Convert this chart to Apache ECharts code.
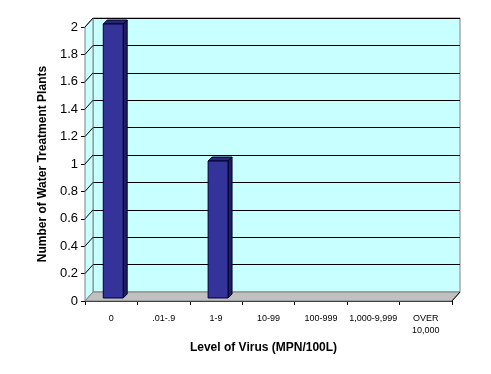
<!DOCTYPE html>
<html>
<head>
<meta charset="utf-8">
<script src="https://cdn.jsdelivr.net/npm/echarts@6/dist/echarts.min.js"></script>
<style>html,body{margin:0;padding:0;background:#fff;}#c{width:491px;height:374px;}</style>
</head>
<body>
<div id="c"></div>
<script>
const categories = ['0', '.01-.9', '1-9', '10-99', '100-999', '1,000-9,999', 'OVER\n10,000'];
const plantCounts = [2, 0, 1, 0, 0, 0, 0];
const yTicks = [0, 0.2, 0.4, 0.6, 0.8, 1, 1.2, 1.4, 1.6, 1.8, 2];
const yTitle = 'Number of Water Treatment Plants';
const xTitle = 'Level of Virus (MPN/100L)';

const DX = 8, DY = -9;          // depth of the 3D box
const BAR_OFF_X = 2, BAR_OFF_Y = -3, BAR_D = 4;  // bar placement in depth
const FONT = 'Liberation Sans, Arial, sans-serif';

const chart = echarts.init(document.getElementById('c'), null, {renderer: 'canvas'});

const option = {
  backgroundColor: '#ffffff',
  animation: false,
  grid: [
    {left: 93, right: 31, top: 18, bottom: 82, show: true, backgroundColor: '#C8FFFF', borderColor: '#808080', borderWidth: 1},
    {left: 85, right: 39, top: 27, bottom: 73, show: false}
  ],
  xAxis: [
    {gridIndex: 0, type: 'category', data: categories, axisLine: {show: false}, axisTick: {show: false}, axisLabel: {show: false}, splitLine: {show: false}},
    {gridIndex: 1, type: 'category', data: categories,
      axisLine: {show: true, lineStyle: {color: '#000', width: 1}},
      axisTick: {show: true, alignWithLabel: false, length: 4, lineStyle: {color: '#000'}},
      axisLabel: {color: '#000', fontSize: 9, fontFamily: FONT, margin: 12, interval: 0, lineHeight: 12},
      name: xTitle, nameLocation: 'middle', nameGap: 37,
      nameTextStyle: {fontSize: 12, fontWeight: 'bold', fontFamily: FONT, color: '#000', padding: [0, 10, 0, 0]}}
  ],
  yAxis: [
    {gridIndex: 0, type: 'value', min: 0, max: 2, interval: 0.2, axisLine: {show: false}, axisTick: {show: false}, axisLabel: {show: false},
      splitLine: {show: true, lineStyle: {color: '#000', width: 1}}},
    {gridIndex: 1, type: 'value', min: 0, max: 2, interval: 0.2,
      axisLine: {show: true, lineStyle: {color: '#000', width: 1}},
      axisTick: {show: true, length: 4, lineStyle: {color: '#000'}},
      axisLabel: {color: '#000', fontSize: 13, fontFamily: FONT, margin: 7},
      splitLine: {show: false},
      name: yTitle, nameLocation: 'middle', nameGap: 33, nameRotate: 90,
      nameTextStyle: {fontSize: 12, fontWeight: 'bold', fontFamily: FONT, color: '#000'}}
  ],
  series: [
    {
      // left side wall and floor
      type: 'custom', xAxisIndex: 1, yAxisIndex: 1, silent: true, z: 1,
      data: [[0]],
      renderItem: function (params, api) {
        const bw = api.size([1, 0])[0];
        const x0 = api.coord([0, 0])[0] - bw / 2;
        const x1 = api.coord([categories.length - 1, 0])[0] + bw / 2;
        const yb = api.coord([0, 0])[1];
        const yt = api.coord([0, 2])[1];
        return {type: 'group', children: [
          {type: 'polygon', shape: {points: [[x0, yb], [x0 + DX, yb + DY], [x0 + DX, yt + DY], [x0, yt]]},
            style: {fill: '#C8FFFF', stroke: '#808080', lineWidth: 1}},
          {type: 'polygon', shape: {points: [[x0, yb], [x0 + DX, yb + DY], [x1 + DX, yb + DY], [x1, yb]]},
            style: {fill: '#C0C0C0', stroke: '#808080', lineWidth: 1}},
          {type: 'line', shape: {x1: x1, y1: yb, x2: x1 + DX, y2: yb + DY}, style: {stroke: '#000', lineWidth: 1}}
        ]};
      }
    },
    {
      // side wall gridlines
      type: 'custom', xAxisIndex: 1, yAxisIndex: 1, silent: true, z: 2,
      data: yTicks.slice(1).map(v => [0, v]),
      renderItem: function (params, api) {
        const bw = api.size([1, 0])[0];
        const x0 = api.coord([0, 0])[0] - bw / 2;
        const y = api.coord([0, api.value(1)])[1];
        return {type: 'line', shape: {x1: x0, y1: y, x2: x0 + DX, y2: y + DY}, style: {stroke: '#000', lineWidth: 1}};
      }
    },
    {
      // 3D bars
      type: 'custom', xAxisIndex: 1, yAxisIndex: 1, z: 3,
      data: plantCounts.map((v, i) => [i, v]),
      renderItem: function (params, api) {
        const v = api.value(1);
        if (!v) return null;
        const c = api.coord([api.value(0), v]);
        const b = api.coord([api.value(0), 0]);
        const w = api.size([1, 0])[0] * 0.38;
        const xl = c[0] - w / 2 + BAR_OFF_X, xr = xl + w;
        const yt = c[1] + BAR_OFF_Y, yb = b[1] + BAR_OFF_Y;
        const st = {stroke: '#000033', lineWidth: 1};
        return {type: 'group', children: [
          {type: 'polygon', shape: {points: [[xr, yt], [xr + BAR_D, yt - BAR_D], [xr + BAR_D, yb - BAR_D], [xr, yb]]},
            style: Object.assign({fill: '#1F1F5C'}, st)},
          {type: 'polygon', shape: {points: [[xl, yt], [xl + BAR_D, yt - BAR_D], [xr + BAR_D, yt - BAR_D], [xr, yt]]},
            style: Object.assign({fill: '#28286E'}, st)},
          {type: 'rect', shape: {x: xl, y: yt, width: w, height: yb - yt},
            style: Object.assign({fill: '#333399'}, st)}
        ]};
      }
    }
  ]
};
chart.setOption(option);
</script>
</body>
</html>
